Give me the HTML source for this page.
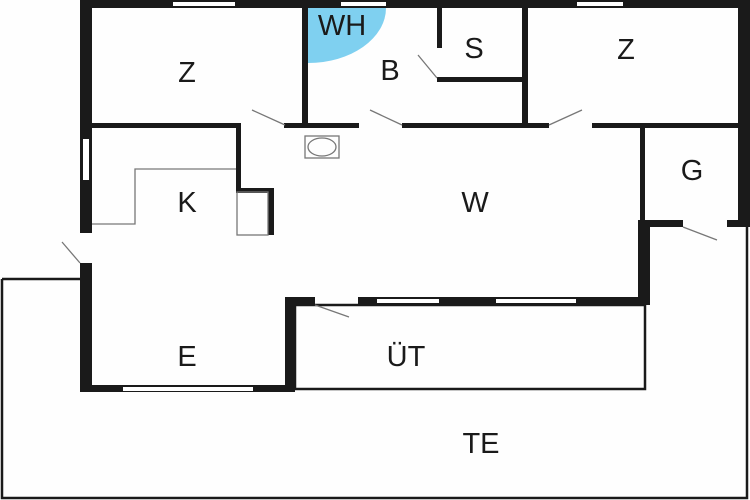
<!DOCTYPE html>
<html><head><style>body{margin:0;background:#fff}svg{display:block}text{font-family:"Liberation Sans",sans-serif;font-size:29px;fill:#1a1a1a;text-anchor:middle}</style></head><body>
<svg width="750" height="500" viewBox="0 0 750 500" xmlns="http://www.w3.org/2000/svg">
<rect width="750" height="500" fill="#fefefe"/>
<path d="M2,279 H80 M747,227 V498 H2 V279" fill="none" stroke="#1a1a1a" stroke-width="2.5"/>
<rect x="295" y="305" width="350" height="84" fill="none" stroke="#1a1a1a" stroke-width="2.5"/>
<path d="M308,8 h78 a78,55 0 0 1 -78,55 z" fill="#7fd0f0"/>
<g fill="#1a1a1a">
<rect x="80" y="0" width="670" height="8"/>
<rect x="80" y="0" width="12" height="233"/>
<rect x="738" y="0" width="12" height="227"/>
<rect x="92" y="123" width="149" height="5"/>
<rect x="236" y="123" width="5" height="69"/>
<rect x="236" y="188" width="38" height="5"/>
<rect x="268" y="188" width="6" height="47"/>
<rect x="302" y="0" width="6" height="127"/>
<rect x="284" y="123" width="75" height="5"/>
<rect x="402" y="123" width="147" height="5"/>
<rect x="592" y="123" width="146" height="5"/>
<rect x="522" y="0" width="6" height="127"/>
<rect x="437" y="8" width="5" height="40"/>
<rect x="437" y="77" width="90" height="5"/>
<rect x="640" y="127" width="5" height="95"/>
<rect x="640" y="220" width="43" height="7"/>
<rect x="727" y="220" width="23" height="7"/>
<rect x="638" y="220" width="12" height="85"/>
<rect x="358" y="297" width="292" height="8"/>
<rect x="285" y="297" width="30" height="8"/>
<rect x="285" y="297" width="10" height="95"/>
<rect x="80" y="385" width="215" height="7"/>
<rect x="80" y="263" width="12" height="129"/>
</g>
<g fill="#fff">
<rect x="173" y="2" width="62" height="4"/>
<rect x="341" y="2" width="45" height="4"/>
<rect x="577" y="2" width="46" height="4"/>
<rect x="83" y="139" width="6" height="41"/>
<rect x="377" y="299" width="62" height="4"/>
<rect x="496" y="299" width="80" height="4"/>
<rect x="123" y="387" width="130" height="4"/>
</g>
<g fill="none" stroke="#777" stroke-width="1.3">
<path d="M92,224 H135 V169 H236"/>
<rect x="237" y="192" width="31" height="43"/>
<rect x="305" y="136" width="34" height="22"/>
<ellipse cx="322" cy="147" rx="14" ry="9"/>
<path d="M252,110 L285,125 M370,110 L402,125 M418,55 L437,78 M549,125 L582,110 M683,227 L717,240 M62,242 L80,263 M315,305 L349,317"/>
</g>
<text x="187" y="82">Z</text>
<text x="342" y="35">WH</text>
<text x="390" y="80">B</text>
<text x="474" y="58">S</text>
<text x="626" y="59">Z</text>
<text x="187" y="212">K</text>
<text x="475" y="212">W</text>
<text x="692" y="180">G</text>
<text x="187" y="366">E</text>
<text x="406" y="366">ÜT</text>
<text x="481" y="453">TE</text>
</svg>
</body></html>
